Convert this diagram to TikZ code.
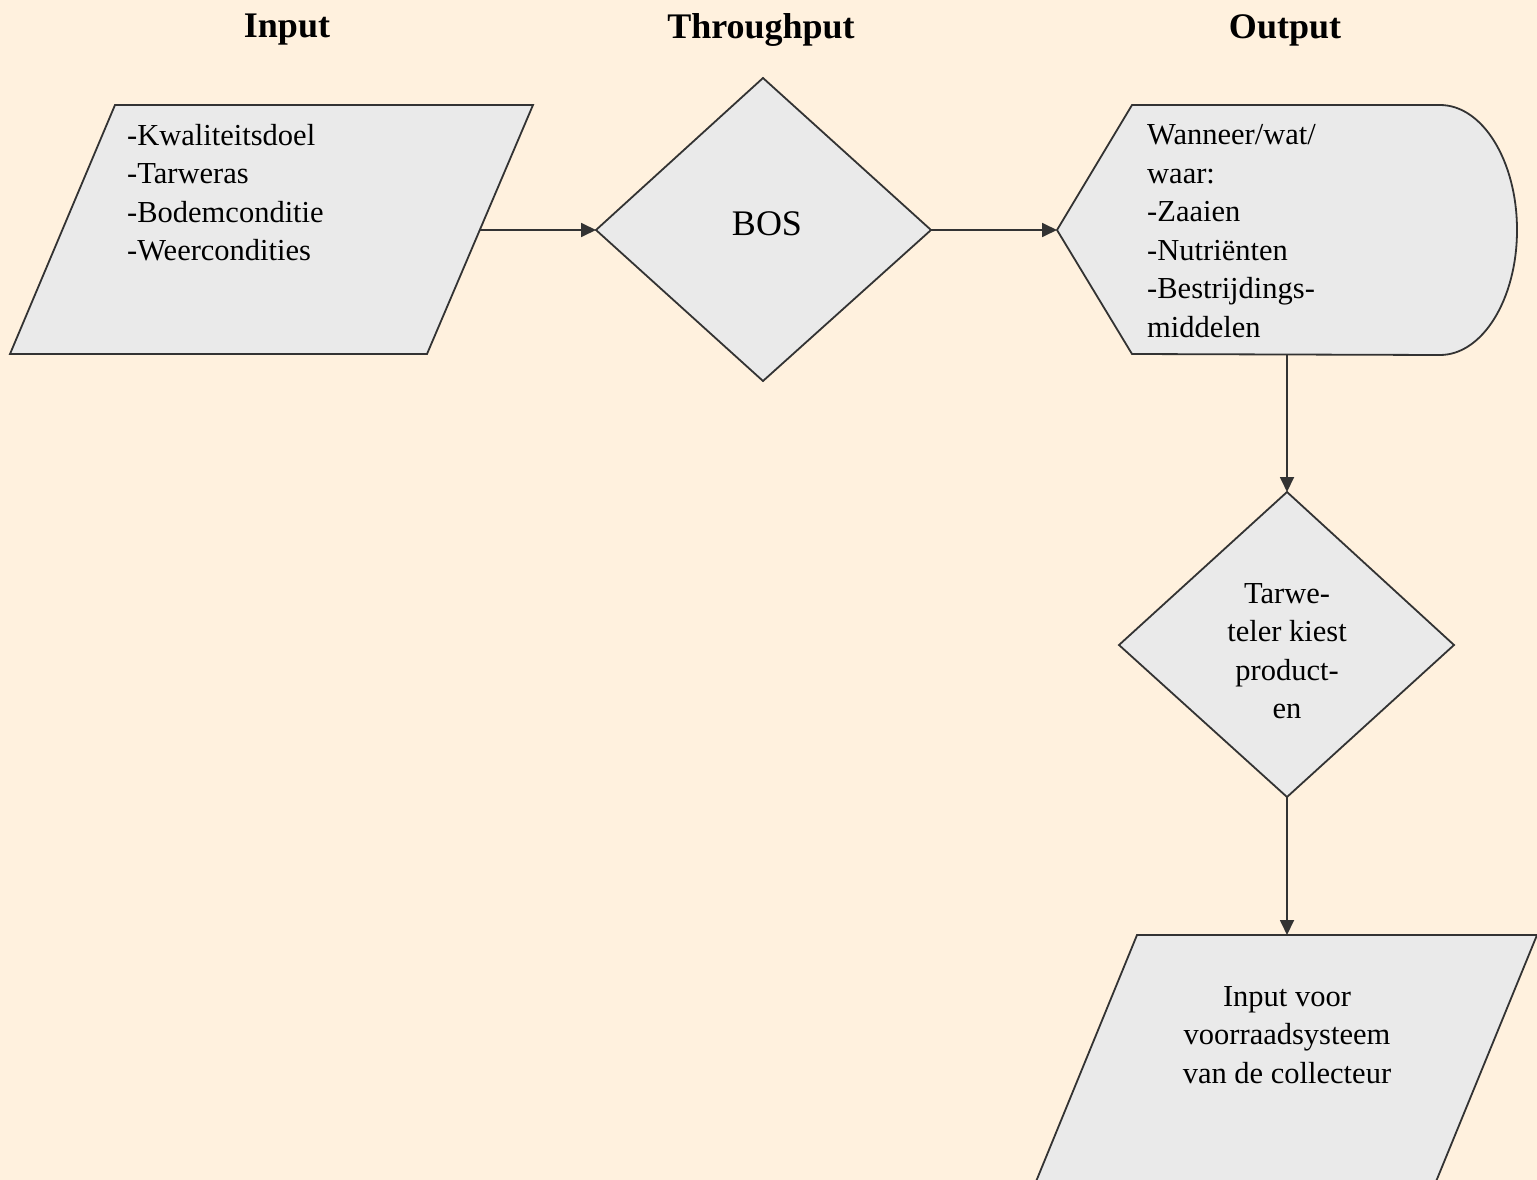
\documentclass[tikz,border=0pt]{standalone}
\usepackage{fontspec}
\setmainfont{Liberation Serif}
\usetikzlibrary{arrows.meta}
\definecolor{bg}{HTML}{FFF1DE}
\definecolor{shapefill}{HTML}{EAEAEA}
\definecolor{stroke}{HTML}{333333}
\begin{document}
\begin{tikzpicture}[x=1pt,y=-1pt,
  shapeline/.style={draw=stroke, fill=shapefill, line width=1.8pt, line join=miter},
  conn/.style={draw=stroke, line width=1.8pt, -{Triangle[length=15pt,width=14pt]}},
  txt/.style={font=\fontsize{30.5}{38.5}\selectfont, inner sep=0pt, text=black},
  head/.style={font=\bfseries\fontsize{36}{40}\selectfont, inner sep=0pt, text=black}]
\fill[bg] (0,0) rectangle (1537,1180);
\useasboundingbox (0,0) rectangle (1537,1180);

% headers
\node[head] (hin) at (287,30) {Input};
\node[head] (hthr) at (761,30) {Throughput};
\node[head] (hout) at (1285,30) {Output};

% input parallelogram
\draw[shapeline] (115,105) -- (533,105) -- (427,354) -- (10,354) -- cycle;
\coordinate (inR) at (480,230);
\node[txt, align=left, anchor=west] (intext) at (127,192.5)
  {-Kwaliteitsdoel\\-Tarweras\\-Bodemconditie\\-Weercondities};

% BOS diamond
\draw[shapeline] (596,230) -- (763,78) -- (931,230) -- (763,381) -- cycle;
\coordinate (bosL) at (596,230);
\coordinate (bosR) at (931,230);
\node[txt, font=\fontsize{36}{40}\selectfont] (bos) at (767,224) {BOS};

% display shape
\draw[shapeline] (1057,230) -- (1132,105) -- (1440,105)
  arc[start angle=-90, end angle=90, x radius=77, y radius=125]
  -- (1132,354) -- cycle;
\coordinate (dispL) at (1057,230);
\coordinate (dispB) at (1287,354);
\node[txt, align=left, anchor=west] (disptext) at (1147,231)
  {Wanneer/wat/\\waar:\\-Zaaien\\-Nutriënten\\-Bestrijdings-\\middelen};

% second diamond
\draw[shapeline] (1287,492) -- (1454,645) -- (1287,797) -- (1119,645) -- cycle;
\coordinate (d2T) at (1287,492);
\coordinate (d2B) at (1287,797);
\node[txt, align=center] (d2text) at (1287,651)
  {Tarwe-\\teler kiest\\product-\\en};

% bottom parallelogram
\draw[shapeline] (1137,935) -- (1537,935) -- (1435,1184) -- (1035,1184) -- cycle;
\coordinate (botT) at (1287,935);
\node[txt, align=center] (bottext) at (1287,1035)
  {Input voor\\voorraadsysteem\\van de collecteur};

% connectors
\draw[conn] (inR) -- (bosL);
\draw[conn] (bosR) -- (dispL);
\draw[conn] (dispB) -- (d2T);
\draw[conn] (d2B) -- (botT);
\end{tikzpicture}
\end{document}
